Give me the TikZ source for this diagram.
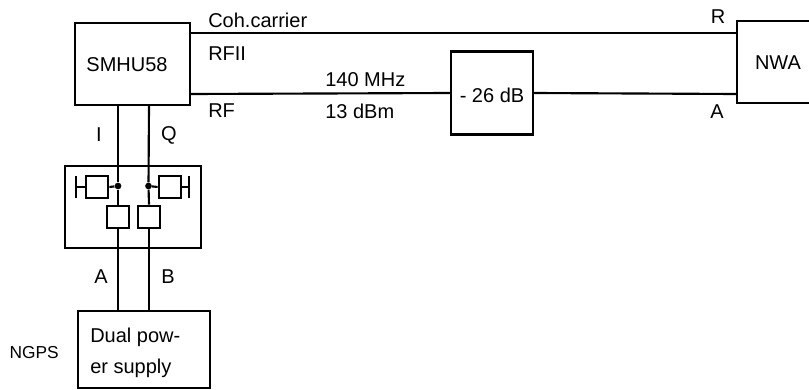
\documentclass[tikz,border=0pt]{standalone}
\usepackage{fontspec}
\setmainfont{Liberation Sans}
\begin{document}
\begin{tikzpicture}[x=0.75pt,y=-0.75pt,
  wire/.style={line width=1.6pt,black},
  box/.style={draw=black,line width=1.6pt,fill=white,inner sep=0pt,minimum width=0pt},
  smallbox/.style={box,line width=2.1pt,minimum width=16.5pt,minimum height=16.5pt},
  txt/.style={inner sep=0pt,font=\fontsize{15pt}{18pt}\selectfont,black},
  dot/.style={circle,fill=black,inner sep=0pt,minimum size=5pt}]
\useasboundingbox (0,0) rectangle (809,389);
\coordinate (nwaA) at (737,21);
\coordinate (nwaB) at (809,21);
\coordinate (nwaC) at (809,103);
\coordinate (nwaD) at (737,103);
\draw[wire] (nwaB) -- (nwaA) -- (nwaD) -- (nwaC);
\node[txt] (nwalab) at (778,63) {NWA};
\node[box,minimum width=115pt*0.75,minimum height=82pt*0.75] (sm) at (132.5,64) {};
\node[txt] (smlab) at (127,65) {SMHU58};
\coordinate (r1) at (737,33);
\coordinate (s1) at (190,33);
\coordinate (s2) at (190,94);
\coordinate (r2) at (737,94);
\node[box,minimum width=82pt*0.75,minimum height=83pt*0.75] (att) at (492,93) {};
\node[txt] (attlab) at (492,95) {- 26 dB};
\draw[wire] (s1) -- (r1);
\draw[wire] (s2) -- (att.west);
\draw[wire] (att.east) -- (r2);
\node[txt,anchor=west] (l1) at (208,20) {Coh.carrier};
\node[txt,anchor=west] (l2) at (208,54) {RFII};
\node[txt,anchor=west] (l3) at (208,111) {RF};
\node[txt,anchor=west] (l4) at (325,80) {140 MHz};
\node[txt,anchor=west] (l5) at (325,111) {13 dBm};
\node[txt] (l6) at (718,17) {R};
\node[txt] (l7) at (717,112) {A};
\node[box,minimum width=136pt*0.75,minimum height=82pt*0.75] (mod) at (133,207) {};
\node[box,minimum width=132pt*0.75,minimum height=77pt*0.75] (ps) at (144,349.5) {};
\node[txt,anchor=west] (ps1) at (90,337) {Dual pow-};
\node[txt,anchor=west] (ps2) at (90,368) {er supply};
\node[txt,anchor=east,font=\fontsize{13pt}{16pt}\selectfont] (ng) at (59,353) {NGPS};
\node[smallbox] (lb) at (118,217) {};
\node[smallbox] (rb) at (149,217) {};
\node[smallbox] (lc) at (97,187) {};
\node[smallbox] (rc) at (170,187) {};
\node[dot] (ld) at (118,186) {};
\node[dot] (rd) at (148.5,186) {};
\coordinate (lt) at (118,105);
\coordinate (rt) at (149,105);
\coordinate (lbar) at (76,187);
\coordinate (rbar) at (189,187);
\draw[wire] (lt) -- (ld) -- (lb.north);
\draw[wire] (rt) -- (rd) -- (rb.north);
\draw[wire] (lb.south) -- (lb.south |- ps.north);
\draw[wire] (rb.south) -- (rb.south |- ps.north);
\draw[wire] (lc.east) -- (ld);
\draw[wire] (rc.west) -- (rd);
\draw[wire] (lc.west) -- (lbar);
\draw[wire] (rc.east) -- (rbar);
\draw[wire] ([yshift=-8.25pt]lbar) -- ([yshift=8.25pt]lbar);
\draw[wire] ([yshift=-8.25pt]rbar) -- ([yshift=8.25pt]rbar);
\node[txt] (ii) at (99,135) {I};
\node[txt] (qq) at (169,135) {Q};
\node[txt] (aa) at (101,277) {A};
\node[txt] (bb) at (168,277) {B};
\end{tikzpicture}
\end{document}
